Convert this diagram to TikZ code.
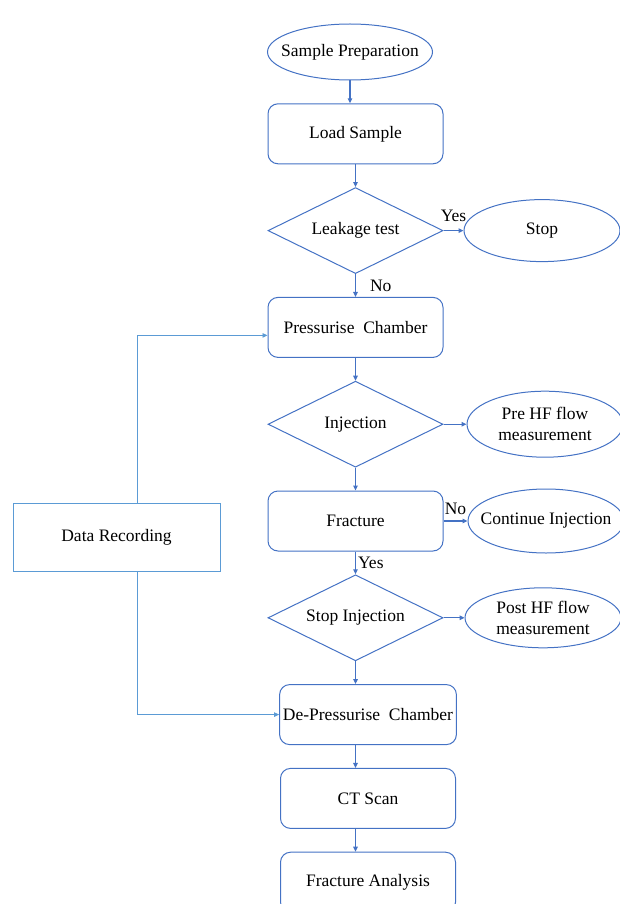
\documentclass[tikz,border=0pt]{standalone}
\usepackage{fontspec}
\setmainfont{Liberation Serif}
\usetikzlibrary{shapes.geometric, arrows.meta, positioning}
\definecolor{flowblue}{HTML}{4472C4}
\definecolor{lineblue}{HTML}{5B9BD5}
\newcommand{\ovaltext}[1]{\makebox[0pt]{#1}}

\begin{document}
\begin{tikzpicture}[
    x=1pt, y=-1pt,
    node distance=22.8pt,
    font=\fontsize{17.5}{21}\selectfont,
    process/.style={rectangle, rounded corners=10pt, minimum width=175pt, minimum height=60pt, draw=flowblue, line width=1pt, text centered},
    decision/.style={diamond, aspect=2, minimum width=175pt, minimum height=86pt, inner sep=0pt, draw=flowblue, line width=1pt, text centered},
    terminal/.style={ellipse, minimum width=156pt, minimum height=62pt, inner sep=0pt, draw=flowblue, line width=1pt, align=center},
    record/.style={rectangle, minimum width=207pt, minimum height=68pt, draw=lineblue, line width=1pt},
    arrow/.style={flowblue, line width=1.2pt, -{Triangle[length=5pt, width=4.5pt]}},
    dataline/.style={lineblue, line width=0.8pt, -{Triangle[length=5pt, width=4.5pt]}},
    branch/.style={text=black, inner sep=2pt}
]
\useasboundingbox (0,0) rectangle (620,904);

% Nodes
\node (prep) [terminal, minimum width=165pt, minimum height=56pt] at (350,52) {\ovaltext{Sample Preparation}};
\node (load) [process, below=of prep, xshift=5.5pt] {Load Sample};
\node (leak) [decision, below=of load] {Leakage test};
\node (stop) [terminal, right=20pt of leak] {Stop};

\node (press) [process, below=of leak] {Pressurise\ \ Chamber};
\node (inj) [decision, below=of press] {Injection};
\node (pre) [terminal, right=23pt of inj, minimum height=66pt] {Pre HF flow\\measurement};

\node (frac) [process, below=of inj] {Fracture};
\node (cont) [terminal, right=24pt of frac, minimum height=64pt] {\ovaltext{Continue Injection}};

\node (stopinj) [decision, below=of frac] {Stop Injection};
\node (post) [terminal, right=21pt of stopinj, minimum height=60pt] {Post HF flow\\measurement};

\node (depress) [process, below=of stopinj, xshift=12.5pt] {De-Pressurise\ \ Chamber};
\node (ct) [process, below=of depress] {CT Scan};
\node (fa) [process, below=of ct] {Fracture Analysis};

\node (data) [record] at (116.5,537) {Data Recording};

% Edges
\draw [arrow] (prep) -- (prep.south |- load.north);
\draw [arrow] (load) -- (leak);
\draw [arrow] (leak) -- node[branch, above=6pt] {Yes} (stop);
\draw [arrow] (leak) -- node[branch, right, xshift=12pt] {No} (press);

\draw [arrow] (press) -- (inj);
\draw [arrow] (inj) -- (pre);
\draw [arrow] (inj) -- (frac);
\draw [arrow] (frac) -- node[branch, above=4pt] {No} (cont);
\draw [arrow] (frac) -- node[branch, right] {Yes} (stopinj);
\draw [arrow] (stopinj) -- (post);

\draw [arrow] (stopinj) -- (stopinj.south |- depress.north);
\draw [arrow] (depress.south -| stopinj) -- (stopinj.south |- ct.north);
\draw [arrow] (ct.south -| stopinj) -- (stopinj.south |- fa.north);

% Recording links
\draw [dataline] ([xshift=21pt]data.north) |- ([yshift=-8pt]press.west);
\draw [dataline] ([xshift=21pt]data.south) |- (depress.west);

\end{tikzpicture}
\end{document}
